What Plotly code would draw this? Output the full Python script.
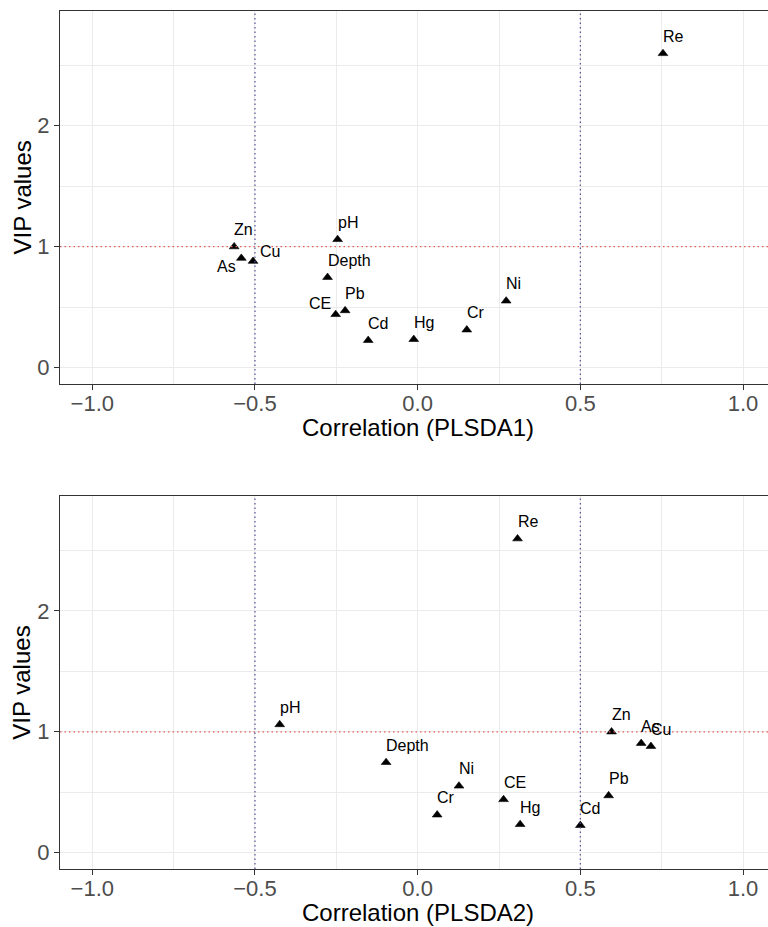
import plotly.graph_objects as go

# Variables with their VIP scores and correlations with the two PLS-DA components
variables = ["Zn", "As", "Cu", "pH", "Depth", "CE", "Pb", "Cd", "Hg", "Cr", "Ni", "Re"]
vip = [1.00, 0.905, 0.88, 1.06, 0.747, 0.44, 0.472, 0.226, 0.234, 0.313, 0.552, 2.597]
cor_plsda1 = [-0.564, -0.542, -0.506, -0.246, -0.277, -0.252, -0.223, -0.152, -0.012, 0.151, 0.272, 0.754]
cor_plsda2 = [0.596, 0.687, 0.717, -0.424, -0.097, 0.264, 0.587, 0.500, 0.315, 0.060, 0.127, 0.307]

x_ticks = [-1.0, -0.5, 0.0, 0.5, 1.0]
y_ticks = [0, 1, 2]
vip_threshold = 1.0
cor_thresholds = [-0.5, 0.5]
x_titles = ["Correlation (PLSDA1)", "Correlation (PLSDA2)"]
y_title = "VIP values"

# ---- layout constants (pixels) ----
W, H = 768, 927
LEFT = 60
panels = [  # (top, bottom) pixel rows of each panel
    (11.0, 384.0),
    (496.3, 869.0),
]
X_RANGE = [-1.0993, 1.0768]
Y_RANGE = [-0.135, 2.948]

FONT = "Liberation Sans, Arial, Helvetica, sans-serif"
GRID = "#EBEBEB"
FRAME = "#333333"

# label placement: (anchor, x shift px, y shift px); default is above-right
default_place = ("left", -1, 17)
label_place = [
    {"As": ("right", -4, -8), "Cu": ("left", 6, 10), "CE": ("right", -4, 11)},
    {},
]

fig = go.Figure()
annotations = []
shapes = []

for i, (top, bottom) in enumerate(panels):
    n = "" if i == 0 else str(i + 1)
    xa, ya = "x" + n, "y" + n
    xcor = cor_plsda1 if i == 0 else cor_plsda2

    fig.add_trace(go.Scatter(
        x=xcor, y=vip, mode="markers", xaxis=xa, yaxis=ya,
        marker=dict(symbol="triangle-up", size=8.5, color="black",
                    line=dict(color="black", width=0.6)),
        showlegend=False, hoverinfo="skip",
    ))

    for name, xv, yv in zip(variables, xcor, vip):
        anchor, dx, dy = label_place[i].get(name, default_place)
        annotations.append(dict(
            x=xv, y=yv, xref=xa, yref=ya, text=name, showarrow=False,
            xanchor=anchor, yanchor="middle", xshift=dx, yshift=dy,
            borderpad=0, font=dict(family=FONT, size=16, color="black"),
        ))

    # dotted reference lines: VIP threshold and correlation cut-offs
    shapes.append(dict(
        type="line", xref=xa + " domain", yref=ya, x0=0, x1=1,
        y0=vip_threshold, y1=vip_threshold, layer="above",
        line=dict(color="rgb(226,96,90)", width=1.2, dash="1.5px,3px"),
    ))
    for c in cor_thresholds:
        shapes.append(dict(
            type="line", xref=xa, yref=ya + " domain", x0=c, x1=c,
            y0=0, y1=1, layer="above",
            line=dict(color="rgb(80,80,150)", width=1.2, dash="1.5px,3px"),
        ))

    dom = [1 - bottom / H, 1 - top / H]
    axis_common = dict(
        showgrid=True, gridcolor=GRID, gridwidth=1, zeroline=False,
        showline=True, linecolor=FRAME, linewidth=1,
        ticks="outside", ticklen=5, tickwidth=1, tickcolor=FRAME,
        tickfont=dict(family=FONT, size=22, color="#4D4D4D"),
    )
    fig.layout["xaxis" + n] = dict(
        axis_common, domain=[0, 1], range=X_RANGE, anchor=ya,
        tickvals=x_ticks, tickformat=".1f", mirror=True,
        ticklabelstandoff=-5,
        minor=dict(dtick=0.25, tick0=0, showgrid=True, gridcolor=GRID,
                   gridwidth=0.7, ticks=""),
    )
    fig.layout["yaxis" + n] = dict(
        axis_common, domain=dom, range=Y_RANGE, anchor=xa,
        tickvals=y_ticks, mirror=False,
        minor=dict(dtick=0.5, tick0=0, showgrid=True, gridcolor=GRID,
                   gridwidth=0.7, ticks=""),
    )

    # axis titles
    annotations.append(dict(
        x=0.0, xref=xa, y=1 - (bottom + 43) / H, yref="paper",
        text=x_titles[i], showarrow=False, xanchor="center", yanchor="middle",
        font=dict(family=FONT, size=24, color="black"),
    ))
    annotations.append(dict(
        x=(22 - LEFT) / (W - LEFT), xref="paper", y=1 - (top + bottom) / 2 / H,
        yref="paper", text=y_title, textangle=-90, showarrow=False,
        xanchor="center", yanchor="middle",
        font=dict(family=FONT, size=24, color="black"),
    ))

fig.update_layout(
    width=W, height=H,
    margin=dict(l=LEFT, r=0, t=0, b=0),
    paper_bgcolor="white", plot_bgcolor="white",
    annotations=annotations, shapes=shapes,
    font=dict(family=FONT),
)

fig.write_html("out.html")
